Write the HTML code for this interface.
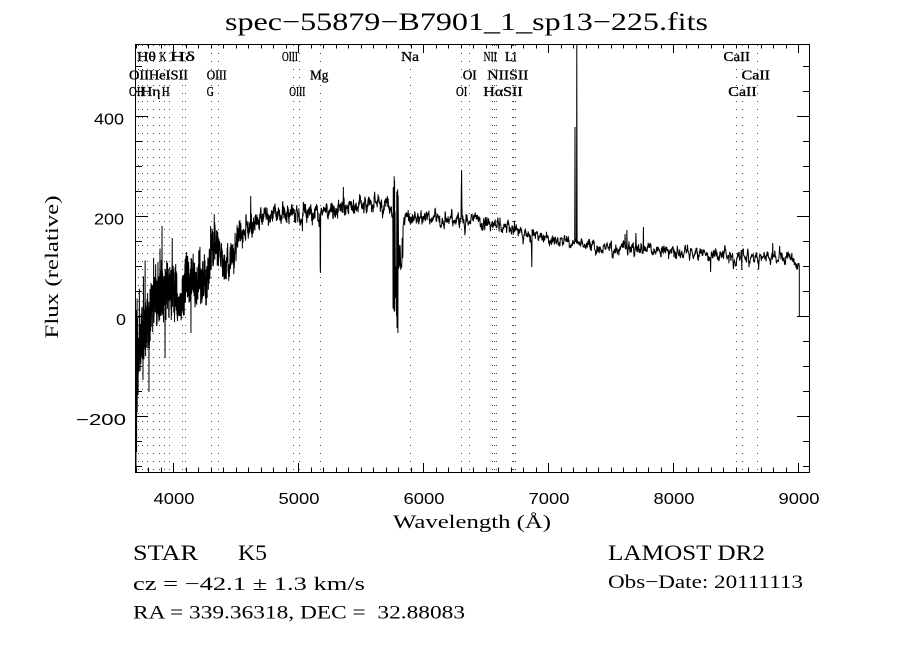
<!DOCTYPE html>
<html><head><meta charset="utf-8"><style>
html,body{margin:0;padding:0;background:#fff;}
svg{display:block;}
text{white-space:pre;}
.s{font-family:"Liberation Serif",serif;fill:#000;}
.n{font-family:"Liberation Sans",sans-serif;fill:#000;}
.lb{stroke:#000;stroke-width:0.35;}
</style></head><body>
<svg id="svg" width="900" height="650" viewBox="0 0 900 650" xmlns="http://www.w3.org/2000/svg">
<rect x="0" y="0" width="900" height="650" fill="#fff"/>
<g id="dots" stroke="#b22222" stroke-width="1" stroke-dasharray="1 7" shape-rendering="crispEdges"></g>
<g id="ticks" stroke="#000" stroke-width="1" shape-rendering="crispEdges"></g>
<rect x="135.5" y="44.5" width="674" height="428" fill="none" stroke="#000" stroke-width="1" shape-rendering="crispEdges"/>
<path id="spec" fill="none" stroke="#000" stroke-width="1" stroke-linejoin="miter"/>

<!-- title -->
<text class="s" x="225" y="30" font-size="25" textLength="483" lengthAdjust="spacingAndGlyphs">spec−55879−B7901_1_sp13−225.fits</text>

<!-- line labels row 1 -->
<g class="s lb" font-size="14">
<text x="137" y="61" textLength="19" lengthAdjust="spacingAndGlyphs">Hθ</text>
<text x="159.5" y="61" textLength="7" lengthAdjust="spacingAndGlyphs">K</text>
<text x="170" y="61" textLength="25" lengthAdjust="spacingAndGlyphs">Hδ</text>
<text x="282" y="61" textLength="16" lengthAdjust="spacingAndGlyphs">OIII</text>
<text x="401" y="61" textLength="18" lengthAdjust="spacingAndGlyphs">Na</text>
<text x="483.5" y="61" textLength="13.5" lengthAdjust="spacingAndGlyphs">NII</text>
<text x="505" y="61" textLength="11.5" lengthAdjust="spacingAndGlyphs">Li</text>
<text x="723.5" y="61" textLength="26.5" lengthAdjust="spacingAndGlyphs">CaII</text>
<!-- row 2 -->
<text x="129" y="79.5" textLength="59" lengthAdjust="spacingAndGlyphs">OIIHeISII</text>
<text x="206.7" y="79.5" textLength="20" lengthAdjust="spacingAndGlyphs">OIII</text>
<text x="310" y="79.5" textLength="18.3" lengthAdjust="spacingAndGlyphs">Mg</text>
<text x="462.7" y="79.5" textLength="14" lengthAdjust="spacingAndGlyphs">OI</text>
<text x="487.3" y="79.5" textLength="41" lengthAdjust="spacingAndGlyphs">NIISII</text>
<text x="741.7" y="79.5" textLength="28.3" lengthAdjust="spacingAndGlyphs">CaII</text>
<!-- row 3 -->
<text x="129" y="96" textLength="15" lengthAdjust="spacingAndGlyphs">OII</text>
<text x="141" y="96" textLength="19.5" lengthAdjust="spacingAndGlyphs">Hη</text>
<text x="161.7" y="96" textLength="8" lengthAdjust="spacingAndGlyphs">H</text>
<text x="206.7" y="96" textLength="7" lengthAdjust="spacingAndGlyphs">G</text>
<text x="289.3" y="96" textLength="16" lengthAdjust="spacingAndGlyphs">OIII</text>
<text x="456" y="96" textLength="11.3" lengthAdjust="spacingAndGlyphs">OI</text>
<text x="483.3" y="96" textLength="39.4" lengthAdjust="spacingAndGlyphs">HαSII</text>
<text x="728.3" y="96" textLength="28.4" lengthAdjust="spacingAndGlyphs">CaII</text>
</g>

<!-- y tick labels -->
<g class="n" font-size="16" text-anchor="end">
<text x="124" y="124.5" textLength="30" lengthAdjust="spacingAndGlyphs">400</text>
<text x="124" y="224.5" textLength="30" lengthAdjust="spacingAndGlyphs">200</text>
<text x="126" y="325" textLength="10" lengthAdjust="spacingAndGlyphs">0</text>
<text x="126" y="425" textLength="50" lengthAdjust="spacingAndGlyphs">−200</text>
</g>
<!-- x tick labels -->
<g class="n" font-size="16" text-anchor="middle">
<text x="174" y="504" textLength="41" lengthAdjust="spacingAndGlyphs">4000</text>
<text x="299" y="504" textLength="41" lengthAdjust="spacingAndGlyphs">5000</text>
<text x="424" y="504" textLength="41" lengthAdjust="spacingAndGlyphs">6000</text>
<text x="549" y="504" textLength="41" lengthAdjust="spacingAndGlyphs">7000</text>
<text x="674" y="504" textLength="41" lengthAdjust="spacingAndGlyphs">8000</text>
<text x="799" y="504" textLength="41" lengthAdjust="spacingAndGlyphs">9000</text>
</g>

<!-- axis titles -->
<text class="s" x="472" y="528" font-size="19" text-anchor="middle" textLength="158" lengthAdjust="spacingAndGlyphs">Wavelength (Å)</text>
<text class="s" transform="translate(58,267) rotate(-90)" x="0" y="0" font-size="19" text-anchor="middle" textLength="143" lengthAdjust="spacingAndGlyphs">Flux (relative)</text>

<!-- bottom info -->
<text class="s" x="133" y="560" font-size="22" textLength="65" lengthAdjust="spacingAndGlyphs">STAR</text>
<text class="s" x="238" y="560" font-size="22" textLength="29" lengthAdjust="spacingAndGlyphs">K5</text>
<text class="s" x="133" y="590" font-size="19" textLength="232" lengthAdjust="spacingAndGlyphs">cz = −42.1 ± 1.3 km/s</text>
<text class="s" x="133" y="618.3" font-size="19" textLength="332" lengthAdjust="spacingAndGlyphs">RA = 339.36318, DEC =  32.88083</text>
<text class="s" x="608" y="560" font-size="22" textLength="157" lengthAdjust="spacingAndGlyphs">LAMOST DR2</text>
<text class="s" x="608" y="588" font-size="19" textLength="195" lengthAdjust="spacingAndGlyphs">Obs−Date: 20111113</text>
</svg>
<script>
(function(){
var NS="http://www.w3.org/2000/svg";
function ln(g,x1,y1,x2,y2){var e=document.createElementNS(NS,"line");e.setAttribute("x1",x1);e.setAttribute("y1",y1);e.setAttribute("x2",x2);e.setAttribute("y2",y2);g.appendChild(e);}
var dx=[138.5,142.5,147.5,153.5,159.5,164.5,169.5,182.5,185.5,211.5,218.5,293.5,299.5,320.5,410.5,461.5,469.5,492.5,494.5,496.5,512.5,513.5,515.5,736.5,742.5,757.5];
var dg=document.getElementById("dots");
for(var i=0;i<dx.length;i++){ln(dg,dx[i],45,dx[i],472);}
var tg=document.getElementById("ticks");
for(var f=-300;f<=500;f+=50){
  var y=Math.round(315.7-0.5*f)+0.5;
  var L=(f%200===0)?13:7;
  ln(tg,135,y,135+L,y); ln(tg,810,y,810-L,y);
}
for(var l=3700;l<=9000;l+=100){
  var x=Math.round(173.3+(l-4000)*0.125)+0.5;
  var L=(l%1000===0)?9:4.5;
  ln(tg,x,472,x,472-L); ln(tg,x,44,x,44+L);
}
var seed=987654;
function r(){seed=(seed*16807)%2147483647;return seed/2147483647;}
function it(t,x){if(x<=t[0][0])return t[0][1];for(var i=1;i<t.length;i++){if(x<=t[i][0]){var a=t[i-1],b=t[i];return a[1]+(b[1]-a[1])*(x-a[0])/(b[0]-a[0]);}}return t[t.length-1][1];}
var C=[[135.5,338],[140,340],[145,335],[150,318],[155,302],[160,292],[165,292],[170,296],[175,290],[179,305],[183,300],[186,272],[190,282],[200,280],[208,283],[212,252],[215,240],[220,255],[226,262],[232,258],[238,238],[245,228],[255,220],[270,215],[300,214],[318,215],[330,210],[350,206],[370,205],[388,207],[392,210],[400,224],[405,218],[440,217],[470,221],[500,225],[520,231],[540,238],[560,241],[576,243],[580,245],[600,248],[650,249],[700,254],[750,257],[790,258],[797,266]];
var AM=[[135,42],[150,38],[212,30],[240,20],[260,14],[400,11],[580,9],[800,9]];
var WF=[[135,0.78],[212,0.7],[260,0.5],[400,0.45],[800,0.4]];
var step=1.1,kn=[];
for(var k=0;k<800;k++){var v=r()*2-1;if(r()<0.08)v*=2.2;kn.push(v);}
function sm(x){var u=(x-135)/step;var i=Math.floor(u),q=u-i;return kn[i]*(1-q)+kn[i+1]*q;}
var pts=[];
var x=136;
while(x<=798.9){
  var a=it(AM,x),w=it(WF,x);
  var wn=r()*2-1; if(r()<0.03) wn*=2;
  var y=it(C,x)+a*((1-w)*sm(x)+w*wn);
  pts.push([x,y]);
  x+= (x<215)?0.12:((x<400)?0.22:0.3);
}
function setp(x,y){var b=0,bd=1e9;for(var i=0;i<pts.length;i++){var d=Math.abs(pts[i][0]-x);if(d<bd){bd=d;b=i;}}pts[b][1]=y;}
function region(x0,x1,fn){var c=0;for(var i=0;i<pts.length;i++){if(pts[i][0]>=x0&&pts[i][0]<=x1){pts[i][1]=fn(c++);}}}
setp(136.0,468);setp(136.3,310);setp(136.6,452);setp(136.9,330);setp(137.2,412);setp(137.5,318);setp(138.1,395);setp(139,372);
setp(149,392);setp(165,358);setp(191,333);setp(172.3,238);setp(186.7,252);setp(217.7,232);setp(250.7,196);setp(343.3,187);setp(162,226);setp(143,380);setp(158,262);
region(177,182,function(c){return c%2?293+r()*6:312+r()*9;});
setp(320.2,268);setp(320.5,273);
region(393,395,function(c){return c%2?174+r()*18:300+r()*17;});
region(395.1,396.4,function(c){return 255+r()*45;});
region(396.5,398.3,function(c){return c%2?173+r()*25:312+r()*21;});
region(398.4,403,function(c){return 236+r()*34;});
setp(461.4,190);setp(461.7,170);setp(462.0,205);
setp(531.4,250);setp(531.7,267);
region(574.3,577.6,function(c){return 238+r()*6;});
setp(575.0,127);setp(576.7,44);
setp(625,234);setp(636,233);setp(643.3,227);setp(710.7,272);setp(741.7,270);setp(772.7,243);setp(627,230);
pts.push([799.3,266]);pts.push([799.3,316]);
var d="";
for(var i=0;i<pts.length;i++){var yy=Math.max(44,Math.min(472,pts[i][1]));d+=(i?"L":"M")+pts[i][0].toFixed(2)+" "+yy.toFixed(1);}
document.getElementById("spec").setAttribute("d",d);
})();
</script>
</body></html>
